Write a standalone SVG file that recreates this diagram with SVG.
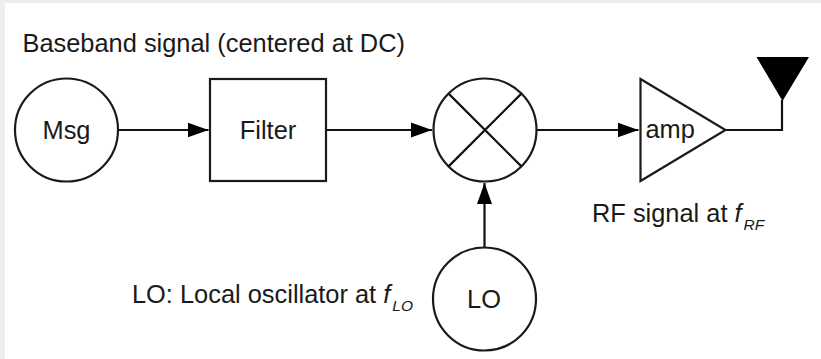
<svg xmlns="http://www.w3.org/2000/svg" width="821" height="359" viewBox="0 0 821 359">
<style>
.s{fill:#fff;stroke:#1a1a1a;stroke-width:2.200}
.l{fill:none;stroke:#111;stroke-width:2.200}
text{font-family:"Liberation Sans",Arial,sans-serif;font-size:25.400px;fill:#1a1a1a}
.m{text-anchor:middle}
.i{font-style:italic}
</style>
<defs>
<marker id="a" markerUnits="userSpaceOnUse" markerWidth="22" markerHeight="16" refX="21" refY="8" orient="auto"><path d="M0 0.500L21 8L0 15.500Z" fill="#000"/></marker>
</defs>
<rect width="821" height="359" fill="#fff"/>
<path d="M0 0H821V3H5V359H0Z" fill="#eee"/>
<g id="connectors">
<path class="l" d="M118 130H208.500" marker-end="url(#a)"/>
<path class="l" d="M327 130H432" marker-end="url(#a)"/>
<path class="l" d="M537 130H638.500" marker-end="url(#a)"/>
<path class="l" d="M484.500 247.500V183" marker-end="url(#a)"/>
<path class="l" d="M726 130H782V100"/>
</g>
<g id="msg"><circle class="s" cx="66.500" cy="130" r="51.500"/><text class="m" x="66.500" y="138.500">Msg</text></g>
<g id="filter"><rect class="s" x="210" y="79" width="116" height="102"/><text class="m" x="268" y="138.500">Filter</text></g>
<g id="mixer"><circle class="s" cx="485" cy="130" r="51.500"/><path class="l" d="M448.600 93.600L521.400 166.400M521.400 93.600L448.600 166.400"/></g>
<g id="amp"><path class="s" d="M640.500 79L725.500 130L640.500 181Z"/><text x="645.500" y="137.500">amp</text></g>
<g id="antenna"><path d="M756.500 57H809L782.500 101Z" fill="#000"/></g>
<g id="lo"><circle class="s" cx="484.500" cy="299" r="51.500"/><text class="m" x="484" y="308">LO</text></g>
<text x="22.500" y="51.500">Baseband signal (centered at DC)</text>
<text x="592" y="222">RF signal at <tspan class="i">f</tspan><tspan class="i" font-size="15.500" dy="8" dx="2">RF</tspan></text>
<text x="132" y="303">LO: Local oscillator at <tspan class="i">f</tspan><tspan class="i" font-size="15.500" dy="8" dx="2">LO</tspan></text>
</svg>
